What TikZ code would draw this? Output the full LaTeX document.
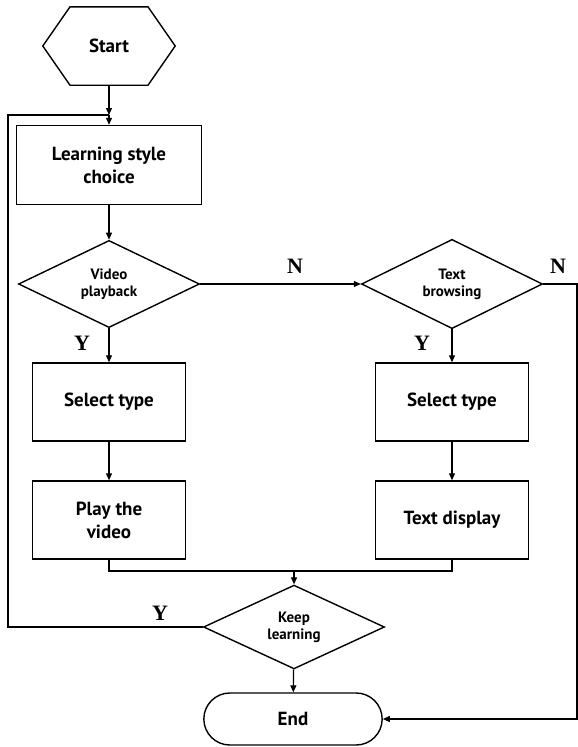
\documentclass[tikz,border=0pt]{standalone}
\usepackage{fontspec}
\setmainfont{PT Sans}
\newfontfamily\ynfont{Liberation Serif}
\usetikzlibrary{positioning, shapes.geometric, shapes.misc, arrows.meta}
\tikzset{
    box/.style={rectangle, draw, line width=1.4pt, minimum width=153pt, minimum height=78pt, align=center, font=\bfseries\fontsize{19}{23}\selectfont},
    decision/.style={diamond, draw, line width=1.4pt, minimum width=181pt, minimum height=77pt, inner sep=0pt, align=center, font=\bfseries\fontsize{15}{17}\selectfont},
    terminal/.style={rounded rectangle, draw, line width=1.4pt, minimum width=185pt, minimum height=52pt, font=\bfseries\fontsize{19}{21}\selectfont},
    line/.style={draw, line width=1.2pt},
    arr/.style={line, -{Triangle[length=7pt, width=6pt]}},
    yn/.style={font=\ynfont\bfseries\fontsize{22}{24}\selectfont}
}
\begin{document}
\begin{tikzpicture}[x=1pt, y=-1pt]
\useasboundingbox (0,0) rectangle (578,747);
% Start and choice
\node[minimum width=132pt, minimum height=78pt, font=\bfseries\fontsize{19}{21}\selectfont] (start) at (109,46) {Start};
\draw[line width=1.4pt] (start.west) -- ([xshift=-39pt]start.north) -- ([xshift=39pt]start.north) -- (start.east)
    -- ([xshift=39pt]start.south) -- ([xshift=-39pt]start.south) -- cycle;
\coordinate (join) at (109,115);
\node[box, minimum width=185pt, minimum height=79pt] (choice) at (109,165) {Learning style\\choice};

% Decisions
\node[decision] (video) at (109,284) {Video\\playback};
\node[decision] (text) at (452,284) {Text\\browsing};

% Video branch
\node[box] (sel1) at (109,402) {Select type};
\node[box] (play) at (109,520) {Play the\\video};

% Text branch
\node[box] (sel2) at (452,402) {Select type};
\node[box] (disp) at (452,520) {Text display};

% Loop and end
\coordinate (merge) at (294,571);
\node[decision, minimum height=78pt] (keep) at (294,627) {Keep\\learning};
\node[terminal] (finish) at (293,719) {End};
\coordinate (loopx) at (8,0);
\coordinate (rightx) at (577,0);

\draw[arr] (start) -- (join);
\draw[arr] (join) -- (choice);
\draw[arr] (choice) -- (video);
\draw[arr] (video) -- (text);
\draw[arr] (video) -- (sel1);
\draw[arr] (sel1) -- (play);
\draw[arr] (text) -- (sel2);
\draw[arr] (sel2) -- (disp);
\draw[line] (play.south) -- (play.south |- merge) -- (disp.south |- merge) -- (disp.south);
\draw[arr] (merge) -- (keep);
\draw[arr] (keep) -- (finish);
\draw[line] (keep.west) -- (keep.west -| loopx) -- (loopx |- join) -- (join);
\draw[arr] (text.east) -- (text.east -| rightx) |- (finish.east);

% Labels
\node[yn] (n1) at (295,266) {N};
\node[yn] (n2) at (558,266) {N};
\node[yn] (y1) at (82,343) {Y};
\node[yn] (y2) at (422,343) {Y};
\node[yn] (y3) at (160,613) {Y};
\end{tikzpicture}
\end{document}
